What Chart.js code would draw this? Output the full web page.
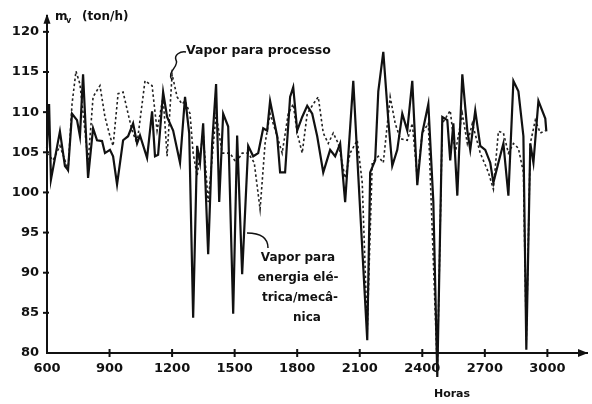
<!DOCTYPE html>
<html>
<head>
<meta charset="utf-8">
<script src="https://cdn.jsdelivr.net/npm/chart.js@4"></script>
<style>
  html,body{margin:0;padding:0;background:#fff;}
  #wrap{position:relative;width:592px;height:404px;}
</style>
</head>
<body>
<div id="wrap"><canvas id="c" width="592" height="404"></canvas></div>
<script>
// ---- data ----
const horasEnergia = [600,610,619,662,686,701,720,744,758,773,797,821,840,864,878,902,917,936,965,989,1013,1032,1046,1080,1104,1118,1133,1157,1176,1205,1238,1262,1282,1301,1320,1334,1349,1373,1392,1411,1426,1445,1469,1493,1512,1536,1565,1589,1613,1637,1656,1670,1704,1718,1742,1766,1781,1800,1824,1848,1872,1896,1925,1958,1982,2006,2030,2069,2093,2136,2150,2174,2189,2213,2237,2256,2280,2304,2328,2352,2376,2400,2429,2453,2472,2496,2520,2534,2549,2568,2592,2616,2630,2654,2678,2702,2726,2741,2765,2789,2813,2837,2861,2885,2899,2918,2933,2957,2990,2995];
const vaporEnergia = [105.5,111.0,101.6,107.6,103.3,102.8,109.8,109.0,107.0,114.7,101.8,108.0,106.5,106.4,104.9,105.3,104.5,101.0,106.5,107.0,108.6,106.1,107.1,104.3,110.1,104.5,104.7,112.5,109.4,107.7,103.7,111.9,107.4,84.4,105.8,103.7,108.6,92.3,106.1,113.5,98.8,109.8,108.2,84.9,107.1,89.8,105.8,104.5,104.9,108.0,107.7,111.4,107.0,102.5,102.5,111.9,113.1,107.7,109.4,110.8,109.8,107.0,102.5,105.3,104.5,106.1,98.8,113.9,102.1,81.6,102.5,104.0,112.6,117.5,109.0,103.3,105.3,109.8,107.7,113.9,100.9,107.4,111.0,98.8,77.0,109.4,109.0,104.0,108.6,99.6,114.7,107.7,105.3,110.2,105.8,105.3,103.7,101.2,103.7,106.1,99.6,113.9,112.6,107.0,80.4,106.1,103.7,111.4,109.2,107.6];

const horasProcesso = [600,629,662,686,701,720,739,758,782,797,821,854,878,902,917,941,965,989,1008,1032,1056,1070,1104,1128,1157,1176,1200,1224,1248,1262,1286,1301,1320,1349,1373,1411,1440,1478,1507,1536,1565,1594,1622,1646,1670,1704,1728,1757,1781,1800,1824,1848,1877,1901,1925,1949,1973,1997,2030,2054,2088,2112,2136,2160,2189,2213,2246,2270,2294,2328,2352,2376,2400,2429,2472,2496,2534,2558,2592,2616,2640,2678,2717,2741,2765,2789,2813,2837,2861,2885,2899,2918,2942,2966,2990];
const vaporProcesso = [104.9,104.0,105.8,104.0,102.8,111.0,115.1,113.5,107.7,103.7,111.9,113.3,109.4,107.0,105.8,112.3,112.5,109.8,107.7,106.1,111.0,113.9,113.3,107.7,111.9,104.5,114.7,111.9,111.0,111.4,109.8,104.9,102.1,107.4,98.8,109.8,104.9,104.9,103.7,104.9,104.9,103.7,97.9,106.1,109.8,107.0,104.9,109.8,111.0,107.4,104.9,109.8,111.0,111.9,107.4,106.1,107.4,106.1,101.8,104.9,106.5,101.2,82.8,103.7,104.5,103.7,111.9,108.6,106.7,106.5,108.6,101.8,107.4,108.6,77.9,108.6,110.2,104.9,109.8,106.1,108.6,104.9,102.5,100.4,107.6,107.4,104.9,106.1,105.5,102.5,81.6,106.1,109.0,107.4,107.7];

const xTicks = [600,900,1200,1500,1800,2100,2400,2700,3000];
const yTicks = [80,85,90,95,100,105,110,115,120];

const labelProcesso = 'Vapor para processo';
const labelEnergia = ['Vapor para','energia elé-','trica/mecâ-','nica'];
const yTitle = ['m','v','(ton/h)'];
const xTitle = 'Horas';

// ---- chart ----
const toXY = (xs, ys) => xs.map((x, i) => ({x: x, y: ys[i]}));
const FONT = '"DejaVu Sans", sans-serif';

const decor = {
  id: 'decor',
  afterDraw(chart) {
    const ctx = chart.ctx;
    const a = chart.chartArea;
    const xs = chart.scales.x, ys = chart.scales.y;
    ctx.save();
    ctx.strokeStyle = '#111';
    ctx.fillStyle = '#111';
    ctx.lineWidth = 2;
    // tick marks crossing the axes
    xTicks.forEach(t => {
      const px = xs.getPixelForValue(t);
      if (t === 600) return;
      ctx.beginPath(); ctx.moveTo(px, a.bottom - 4); ctx.lineTo(px, a.bottom + 4); ctx.stroke();
    });
    yTicks.forEach(t => {
      const py = ys.getPixelForValue(t);
      if (t === 80) return;
      ctx.beginPath(); ctx.moveTo(a.left - 4, py); ctx.lineTo(a.left + 2, py); ctx.stroke();
    });
    // arrows
    ctx.beginPath();
    ctx.moveTo(a.right + 1, a.bottom); ctx.lineTo(a.right - 9, a.bottom - 4); ctx.lineTo(a.right - 9, a.bottom + 4); ctx.closePath(); ctx.fill();
    ctx.beginPath();
    ctx.moveTo(a.left, a.top - 2); ctx.lineTo(a.left - 3.5, a.top + 8); ctx.lineTo(a.left + 3.5, a.top + 8); ctx.closePath(); ctx.fill();

    // y title: m_v (ton/h)
    ctx.textBaseline = 'middle';
    ctx.textAlign = 'left';
    ctx.font = 'bold 12px ' + FONT;
    ctx.fillText(yTitle[0], 55, 17);
    ctx.font = 'bold 8px ' + FONT;
    ctx.fillText(yTitle[1], 66, 21);
    ctx.font = 'bold 12px ' + FONT;
    ctx.fillText(yTitle[2], 82, 17);

    // x title
    ctx.font = 'bold 11px ' + FONT;
    ctx.textAlign = 'center';
    ctx.fillText(xTitle, 452, 394);

    // annotation: processo
    ctx.font = 'bold 12.5px ' + FONT;
    ctx.textAlign = 'left';
    ctx.fillText(labelProcesso, 186, 51);
    ctx.lineWidth = 1.5;
    ctx.beginPath();
    ctx.moveTo(172, 80);
    ctx.bezierCurveTo(166, 72, 180, 66, 176, 60);
    ctx.bezierCurveTo(174, 55, 180, 51, 186, 52);
    ctx.stroke();

    // annotation: energia
    ctx.font = 'bold 12px ' + FONT;
    ctx.textAlign = 'center';
    const cx = 298;
    ctx.fillText(labelEnergia[0], cx, 258);
    ctx.fillText(labelEnergia[1], cx, 278);
    ctx.fillText(labelEnergia[2], cx + 2, 298);
    ctx.fillText(labelEnergia[3], cx + 9, 318);
    ctx.beginPath();
    ctx.moveTo(247, 233);
    ctx.bezierCurveTo(258, 233, 268, 236, 268, 248);
    ctx.stroke();
    ctx.restore();
  }
};

new Chart(document.getElementById('c'), {
  type: 'line',
  data: {
    datasets: [
      {
        label: 'Vapor para energia elétrica/mecânica',
        data: toXY(horasEnergia, vaporEnergia),
        borderColor: '#111',
        borderWidth: 2.2,
        pointRadius: 0,
        tension: 0,
        fill: false,
        clip: 40
      },
      {
        label: 'Vapor para processo',
        data: toXY(horasProcesso, vaporProcesso),
        borderColor: '#222',
        borderWidth: 1.6,
        borderDash: [2.5, 2.5],
        pointRadius: 0,
        tension: 0,
        fill: false,
        clip: 40
      }
    ]
  },
  options: {
    responsive: false,
    animation: false,
    devicePixelRatio: 1,
    layout: { padding: { top: 11, right: 5, left: 0, bottom: 0 } },
    plugins: { legend: { display: false }, tooltip: { enabled: false } },
    scales: {
      x: {
        type: 'linear',
        min: 600, max: 3190,
        afterBuildTicks: s => { s.ticks = xTicks.map(v => ({value: v})); },
        afterFit: s => { s.height = 51; },
        grid: { display: false, drawTicks: false },
        border: { display: true, color: '#111', width: 2 },
        ticks: {
          color: '#111',
          padding: 8,
          maxRotation: 0,
          autoSkip: false,
          font: { family: FONT, size: 13, weight: 'bold' },
          callback: v => String(v)
        }
      },
      y: {
        type: 'linear',
        min: 80, max: 122,
        afterBuildTicks: s => { s.ticks = yTicks.map(v => ({value: v})); },
        afterFit: s => { s.width = 47; },
        grid: { display: false, drawTicks: false },
        border: { display: true, color: '#111', width: 2 },
        ticks: {
          color: '#111',
          padding: 8,
          autoSkip: false,
          font: { family: FONT, size: 13, weight: 'bold' },
          callback: v => String(v)
        }
      }
    }
  },
  plugins: [decor]
});
</script>
</body>
</html>
